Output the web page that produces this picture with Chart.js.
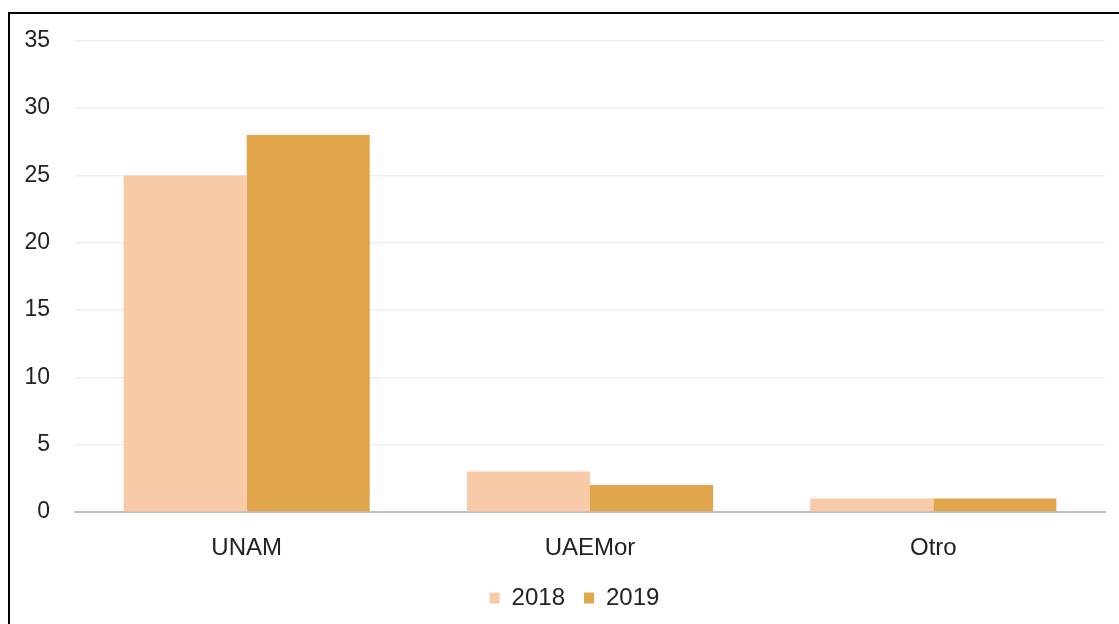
<!DOCTYPE html>
<html>
<head>
<meta charset="utf-8">
<script src="https://cdn.jsdelivr.net/npm/chart.js@4"></script>
<style>
  html, body { margin: 0; padding: 0; background: #fff; }
  #marco {
    position: absolute; left: 8px; top: 12px; width: 1111px; height: 612px;
    border-top: 2px solid #000; border-left: 2px solid #000; box-sizing: border-box;
  }
  #caja { position: absolute; left: 10px; top: 2px; width: 1109px; height: 622px; }
</style>
</head>
<body>
<div id="marco"></div>
<div id="caja"><canvas id="grafico"></canvas></div>
<script>
// datos
const categorias = ['UNAM', 'UAEMor', 'Otro'];
const anios = ['2018', '2019'];
const valores2018 = [25, 3, 1];
const valores2019 = [28, 2, 1];
const coresAnios = ['rgb(249,202,168)', 'rgb(225,166,76)'];

Chart.defaults.font.family = '"Liberation Sans", Arial, sans-serif';
Chart.defaults.color = '#222';

// mover la leyenda un poco a la derecha (como en el original)
const moverLeyenda = {
    id: 'moverLeyenda',
    afterLayout(chart) {
        if (chart.legend) {
            chart.legend.left += 17;
            chart.legend.right += 17;
        }
    }
};

let ctx = document.getElementById('grafico').getContext('2d');

new Chart(ctx, {
    type: 'bar',
    data: {
        labels: categorias,
        datasets: [
            { label: anios[0], data: valores2018, backgroundColor: coresAnios[0] },
            { label: anios[1], data: valores2019, backgroundColor: coresAnios[1] }
        ]
    },
    options: {
        responsive: true,
        maintainAspectRatio: false,
        animation: false,
        categoryPercentage: 0.717,
        barPercentage: 1,
        layout: { padding: { top: 2, right: 14, left: 0, bottom: 4 } },
        plugins: {
            tooltip: { enabled: false },
            legend: {
                position: 'bottom',
                labels: {
                    font: { size: 24 },
                    boxWidth: 10,
                    boxHeight: 11,
                    padding: 19
                }
            }
        },
        scales: {
            x: {
                grid: { display: false, drawTicks: false },
                border: { display: true, color: '#c0c0c0', width: 2 },
                ticks: { font: { size: 24 }, padding: 22, color: '#222' },
                afterFit: function(scale) { scale.height = 55; }
            },
            y: {
                min: 0,
                max: 35,
                ticks: { stepSize: 5, font: { size: 23 }, padding: 25, color: '#222' },
                grid: { color: '#efefef', lineWidth: 1.5, drawTicks: false },
                border: { display: false },
                afterFit: function(scale) { scale.width = 65; }
            }
        }
    },
    plugins: [moverLeyenda]
});
</script>
</body>
</html>
